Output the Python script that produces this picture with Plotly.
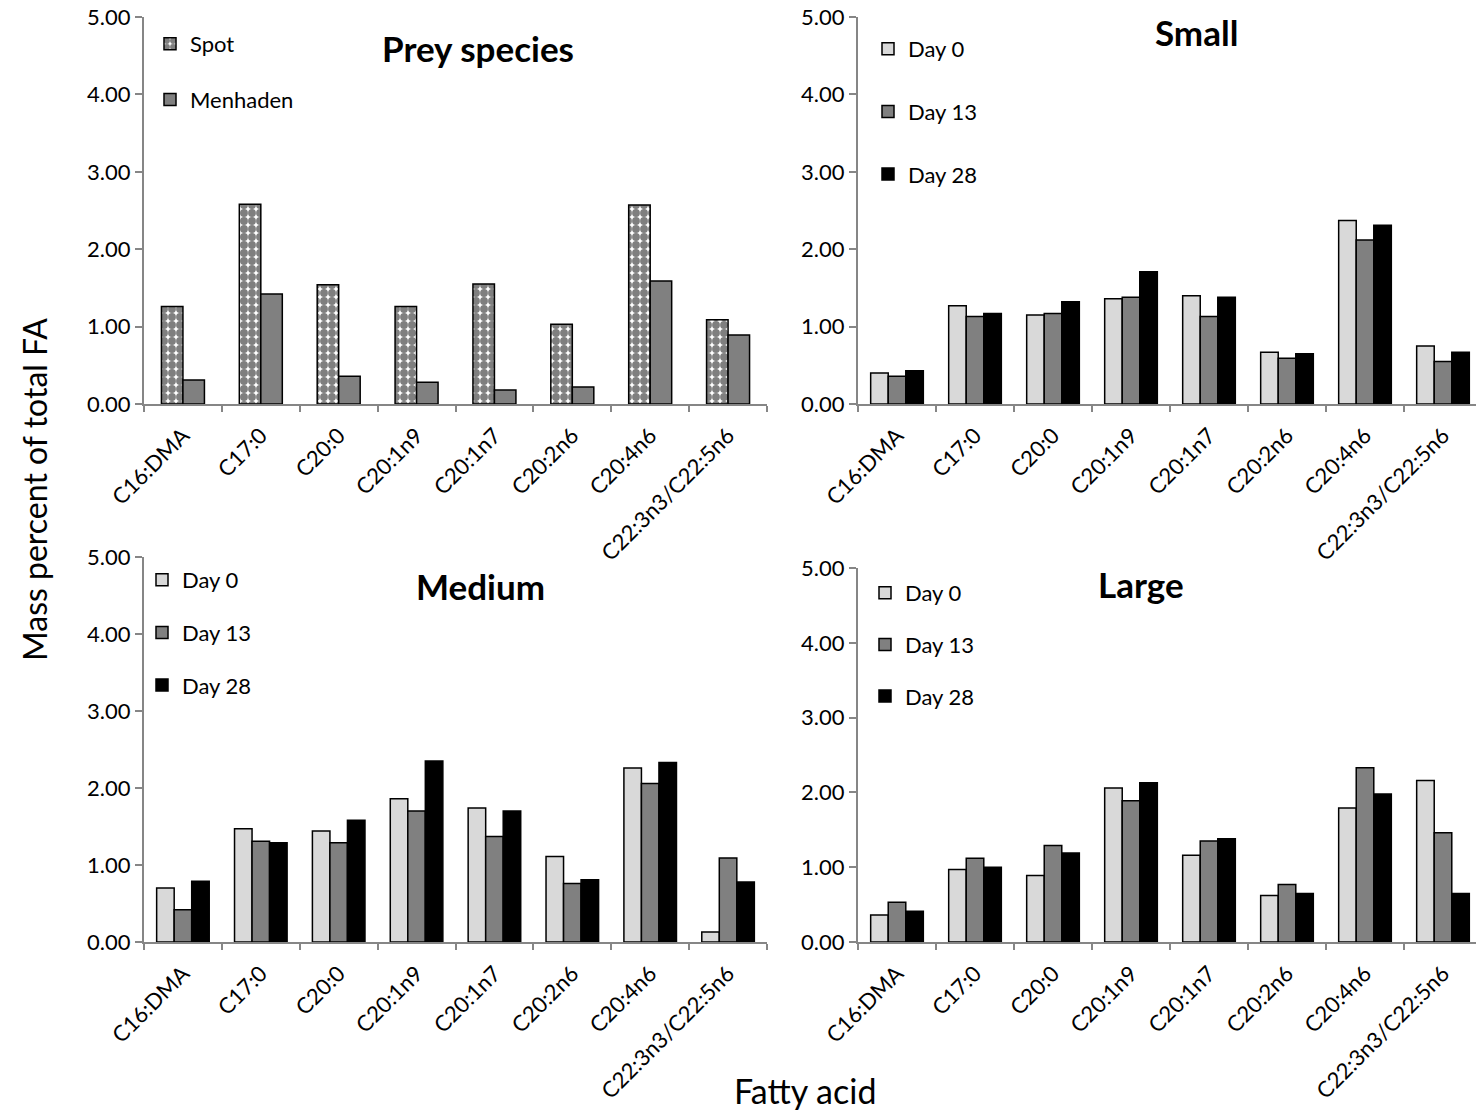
import plotly.graph_objects as go

W, H = 1476, 1112

categories = ["C16:DMA", "C17:0", "C20:0", "C20:1n9", "C20:1n7", "C20:2n6", "C20:4n6", "C22:3n3/C22:5n6"]

# Prey species
spot = [1.26, 2.58, 1.54, 1.26, 1.55, 1.03, 2.57, 1.09]
menhaden = [0.31, 1.42, 0.36, 0.28, 0.18, 0.22, 1.59, 0.89]

# Small
small_d0 = [0.40, 1.27, 1.15, 1.36, 1.40, 0.67, 2.37, 0.75]
small_d13 = [0.36, 1.13, 1.17, 1.38, 1.13, 0.59, 2.12, 0.55]
small_d28 = [0.43, 1.17, 1.32, 1.71, 1.38, 0.65, 2.31, 0.67]

# Medium
med_d0 = [0.70, 1.47, 1.44, 1.86, 1.74, 1.11, 2.26, 0.13]
med_d13 = [0.42, 1.31, 1.29, 1.70, 1.37, 0.76, 2.06, 1.09]
med_d28 = [0.79, 1.29, 1.58, 2.35, 1.70, 0.81, 2.33, 0.78]

# Large
large_d0 = [0.36, 0.97, 0.89, 2.06, 1.16, 0.62, 1.79, 2.16]
large_d13 = [0.53, 1.12, 1.29, 1.89, 1.35, 0.77, 2.33, 1.46]
large_d28 = [0.41, 1.00, 1.19, 2.13, 1.38, 0.65, 1.98, 0.65]

day_labels = ["Day 0", "Day 13", "Day 28"]
day_colors = ["#d9d9d9", "#808080", "#000000"]

FONT = "Lato, Carlito, Calibri, sans-serif"
AXC = "#868686"

fig = go.Figure()

def px_x(p):
    return p / W

def px_y(p):
    return 1 - p / H

# Prey panel (2 series)
bw2 = 0.276
fig.add_trace(go.Bar(
    x=categories, y=spot, name="Spot", xaxis="x", yaxis="y",
    width=bw2, offset=-bw2,
    marker=dict(color="white", line=dict(color="black", width=1.5),
                pattern=dict(shape=".", fgcolor="black", bgcolor="white", size=8, solidity=0.75)),
    legend="legend", legendgroup="spot"))
fig.add_trace(go.Bar(
    x=categories, y=menhaden, name="Menhaden", xaxis="x", yaxis="y",
    width=bw2, offset=0,
    marker=dict(color="#808080", line=dict(color="black", width=1.5)),
    legend="legend", legendgroup="menh"))

bw3 = 0.225
offs3 = [-1.5 * bw3, -0.5 * bw3, 0.5 * bw3]
panels = [
    ("x2", "y2", "legend2", [small_d0, small_d13, small_d28]),
    ("x3", "y3", "legend3", [med_d0, med_d13, med_d28]),
    ("x4", "y4", "legend4", [large_d0, large_d13, large_d28]),
]
for xa, ya, lg, series in panels:
    for i, vals in enumerate(series):
        fig.add_trace(go.Bar(
            x=categories, y=vals, name=day_labels[i], xaxis=xa, yaxis=ya,
            width=bw3, offset=offs3[i],
            marker=dict(color=day_colors[i], line=dict(color="black", width=1.5)),
            legend=lg, legendgroup=lg + str(i)))

tickfont = dict(family=FONT, size=22, color="black")

def xaxis_cfg(domain, rng, anchor):
    return dict(domain=domain, anchor=anchor, type="category", range=rng,
                categoryorder="array", categoryarray=categories, automargin=False,
                showline=True, linecolor=AXC, linewidth=2,
                ticks="outside", tickson="boundaries", ticklen=6, tickcolor=AXC, tickwidth=1.5,
                tickangle=-45, tickfont=tickfont, ticklabelstandoff=8,
                showgrid=False, zeroline=False)

def yaxis_cfg(domain, anchor):
    return dict(domain=domain, anchor=anchor, range=[0, 5], dtick=1, tickformat=".2f",
                automargin=False,
                showline=True, linecolor=AXC, linewidth=2,
                ticks="outside", ticklen=7, tickcolor=AXC, tickwidth=1.5,
                tickfont=tickfont, showgrid=False, zeroline=False)

xl = [px_x(144), px_x(767)]
xr = [px_x(858), 1.0]
yt = [px_y(404), px_y(17)]
yb3 = [px_y(942), px_y(557)]
yb4 = [px_y(942), px_y(568)]

legend_font = dict(family=FONT, size=22, color="black")

def leg(x, y, gap):
    return dict(x=px_x(x), y=px_y(y), xanchor="left", yanchor="top",
                bgcolor="rgba(0,0,0,0)", font=legend_font, tracegroupgap=gap,
                itemwidth=30, traceorder="grouped")

title_font = dict(family=FONT, size=35, color="black", weight="bold")

def ann(text, x, y, font, angle=0):
    return dict(text=text, x=px_x(x), y=px_y(y), xref="paper", yref="paper",
                xanchor="center", yanchor="middle", showarrow=False,
                textangle=angle, font=font)

fig.update_layout(
    width=W, height=H, margin=dict(l=0, r=0, t=0, b=0, autoexpand=False),
    paper_bgcolor="white", plot_bgcolor="white",
    barmode="overlay",
    xaxis=xaxis_cfg(xl, [-0.5, 7.5], "y"),
    yaxis=yaxis_cfg(yt, "x"),
    xaxis2=xaxis_cfg(xr, [-0.5, -0.5 + 618 / 78], "y2"),
    yaxis2=yaxis_cfg(yt, "x2"),
    xaxis3=xaxis_cfg(xl, [-0.5, 7.5], "y3"),
    yaxis3=yaxis_cfg(yb3, "x3"),
    xaxis4=xaxis_cfg(xr, [-0.5, -0.5 + 618 / 78], "y4"),
    yaxis4=yaxis_cfg(yb4, "x4"),
    legend=leg(150, 23, 24),
    legend2=leg(868, 28, 31),
    legend3=leg(142, 559, 21),
    legend4=leg(865, 572, 20),
    annotations=[
        ann("Prey species", 478, 48, title_font),
        ann("Small", 1196, 32, title_font),
        ann("Medium", 480, 586, title_font),
        ann("Large", 1141, 584, title_font),
        ann("Mass percent of total FA", 35, 490, dict(family=FONT, size=32, color="black"), -90),
        ann("Fatty acid", 805, 1090, dict(family=FONT, size=34, color="black")),
    ],
)

fig.write_html("out.html", post_script="document.body.style.margin='0';",
               config={"displayModeBar": False})
